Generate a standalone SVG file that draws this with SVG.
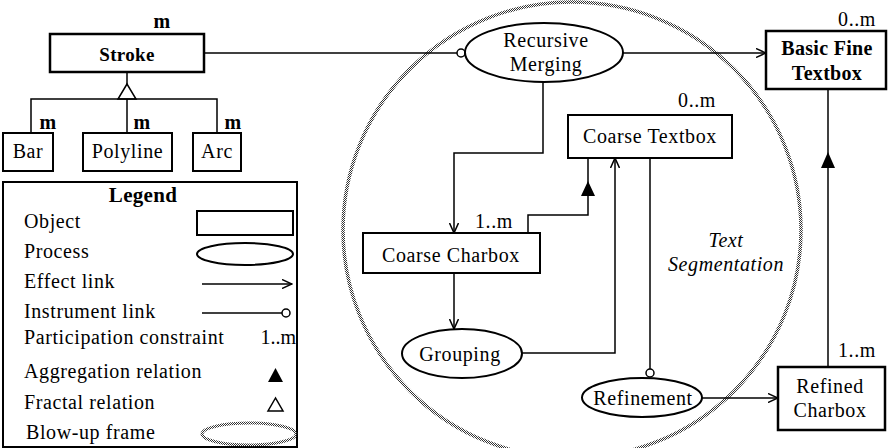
<svg xmlns="http://www.w3.org/2000/svg" width="888" height="448" viewBox="0 0 888 448" font-family="Liberation Serif, serif">
<style>
.box{fill:#fff;stroke:#000;stroke-width:2}
.thick{stroke-width:2.5}
.ln{fill:none;stroke:#000;stroke-width:1.5}
.t{font-size:20px;letter-spacing:0.6px;fill:#000}
.c{text-anchor:middle}
.e{text-anchor:end}
.b{font-weight:bold;letter-spacing:0.3px}
.s19{font-size:19px}
.s21{font-size:21px}
.i{font-style:italic}
.frame{fill:none;stroke:url(#dots);stroke-width:3.5}
</style>
<defs>
<pattern id="dots" width="2" height="2" patternUnits="userSpaceOnUse"><rect width="1" height="1" fill="#333"/><rect x="1" y="1" width="1" height="1" fill="#333"/></pattern>
<marker id="arr" viewBox="0 0 11 10" refX="10" refY="5" markerWidth="11" markerHeight="10" orient="auto" markerUnits="userSpaceOnUse"><path d="M0,0.5 L10,5 L0,9.5" fill="none" stroke="#000" stroke-width="1.5"/></marker>
</defs>
<rect width="888" height="448" fill="#fff"/>
<ellipse id="frame" class="frame" cx="572" cy="230" rx="229" ry="228"/>
<g id="connectors">
<line class="ln" x1="204" y1="53" x2="457" y2="53"/>
<circle cx="461" cy="53" r="4" fill="#fff" stroke="#000" stroke-width="1.5"/>
<line class="ln" x1="623" y1="53" x2="766" y2="53" marker-end="url(#arr)"/>
<polyline class="ln" points="543,82 543,153 454,153 454,233" marker-end="url(#arr)"/>
<polyline class="ln" points="528,233 528,215 588,215 588,158"/>
<polygon points="588,181 581,196 595,196" fill="#000"/>
<line class="ln" x1="454" y1="273" x2="454" y2="329" marker-end="url(#arr)"/>
<polyline class="ln" points="522,353 615,353 615,158" marker-end="url(#arr)"/>
<line class="ln" x1="650" y1="158" x2="650" y2="369"/>
<circle cx="650" cy="373" r="4" fill="#fff" stroke="#000" stroke-width="1.5"/>
<line class="ln" x1="702" y1="398" x2="778" y2="398" marker-end="url(#arr)"/>
<line class="ln" x1="828" y1="367" x2="828" y2="89"/>
<polygon points="828,152 821,168 835,168" fill="#000"/>
<line class="ln" x1="127" y1="72" x2="127" y2="84"/>
<polygon points="127,84 118,99 136,99" fill="#fff" stroke="#000" stroke-width="1.5"/>
<polyline class="ln" points="31,133 31,99 217,99 217,133"/>
<line class="ln" x1="127" y1="99" x2="127" y2="133"/>
</g>
<g id="stroke"><rect class="box thick" x="50" y="34" width="154" height="38"/><text class="t c b s19" x="127" y="61">Stroke</text><text class="t c b" x="162" y="28">m</text></g>
<g id="bar"><rect class="box" x="3" y="133" width="50" height="38"/><text class="t c" x="28" y="158">Bar</text><text class="t c b" x="48" y="129">m</text></g>
<g id="polyline"><rect class="box" x="83" y="133" width="89" height="38"/><text class="t c" x="127.5" y="158">Polyline</text><text class="t c b" x="142" y="129">m</text></g>
<g id="arc"><rect class="box" x="193" y="133" width="48" height="38"/><text class="t c" x="217" y="158">Arc</text><text class="t c b" x="233" y="129">m</text></g>
<g id="recursive-merging"><ellipse class="box" cx="544" cy="52.5" rx="79" ry="29.5"/><text class="t c" x="546" y="47">Recursive</text><text class="t c" x="546" y="71">Merging</text></g>
<g id="basic-fine-textbox"><rect class="box thick" x="766" y="31" width="120" height="58"/><text class="t c b" x="827" y="55">Basic Fine</text><text class="t c b" x="827" y="80">Textbox</text><text class="t e" x="876" y="26">0..m</text></g>
<g id="coarse-textbox"><rect class="box" x="568" y="115" width="164" height="43"/><text class="t c" x="650" y="143">Coarse Textbox</text><text class="t e" x="716" y="107">0..m</text></g>
<g id="coarse-charbox"><rect class="box" x="363" y="233" width="177" height="40"/><text class="t c" x="451" y="262">Coarse Charbox</text><text class="t" x="475" y="228">1..m</text></g>
<g id="grouping"><ellipse class="box" cx="462" cy="353.5" rx="60" ry="24.5"/><text class="t c" x="460" y="361">Grouping</text></g>
<g id="refinement"><ellipse class="box" cx="642" cy="397.5" rx="60" ry="19.5"/><text class="t c" x="643" y="405">Refinement</text></g>
<g id="refined-charbox"><rect class="box thick" x="778" y="367" width="107" height="63"/><text class="t c" x="830" y="393">Refined</text><text class="t c" x="830" y="417">Charbox</text><text class="t" x="838" y="357">1..m</text></g>
<g id="text-segmentation"><text class="t c i" x="726" y="247">Text</text><text class="t c i" x="726" y="271">Segmentation</text></g>
<g id="legend">
<rect class="box" x="3" y="182" width="294" height="265"/>
<text class="t c b s21" x="143" y="202">Legend</text>
<text class="t" x="24" y="228">Object</text>
<rect class="box" x="197" y="211" width="96" height="24"/>
<text class="t" x="24" y="258">Process</text>
<ellipse class="box" cx="245" cy="254" rx="48" ry="11"/>
<text class="t" x="24" y="288">Effect link</text>
<line class="ln" x1="202" y1="284" x2="292" y2="284" marker-end="url(#arr)"/>
<text class="t" x="24" y="318">Instrument link</text>
<line class="ln" x1="202" y1="313" x2="282" y2="313"/>
<circle cx="286" cy="313" r="4" fill="#fff" stroke="#000" stroke-width="1.5"/>
<text class="t" x="24" y="344">Participation constraint</text>
<text class="t e" x="296" y="344" style="letter-spacing:0">1..m</text>
<text class="t" x="24" y="378">Aggregation relation</text>
<polygon points="275.5,368 268,382 283,382" fill="#000"/>
<text class="t" x="24" y="409">Fractal relation</text>
<polygon points="275.5,398 268,411 283,411" fill="#fff" stroke="#000" stroke-width="1.5"/>
<text class="t" x="26" y="439">Blow-up frame</text>
<ellipse class="frame" cx="249" cy="434" rx="47" ry="11" style="stroke-width:3"/>
</g>
</svg>
